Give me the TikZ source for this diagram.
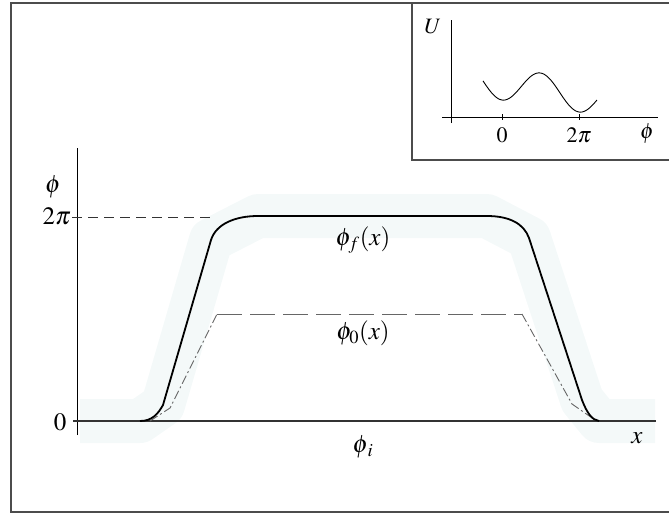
\documentclass[tikz,border=0pt]{standalone}
\usepackage{mathptmx}
\definecolor{halocol}{RGB}{244,249,249}
\begin{document}
\begin{tikzpicture}[x=1pt,y=-1pt,
  frame/.style={draw=black!70,line width=1.3pt},
  axis/.style={draw=black,line width=0.9pt},
  phif/.style={draw=black,line width=1.8pt,line join=round},
  phizero/.style={draw=black!60,line width=0.9pt},
  halo/.style={draw=halocol,line width=44pt,line join=round},
  lab/.style={font=\fontsize{25}{30}\selectfont,inner sep=0pt},
  smalllab/.style={font=\fontsize{22}{26}\selectfont,inner sep=0pt}]
\useasboundingbox (0,0) rectangle (669,515);
% halo
\draw[halo] (80,421) -- (140,421) -- (163,405) -- (211,240) -- (258,216) -- (487,216) -- (529,238) -- (582,400) -- (599,421) -- (655,421);
% outer frame
\draw[frame] (669,3) -- (11,3) -- (11,512) -- (669,512);
% inset frame
\draw[frame] (412,3) -- (412,160) -- (669,160);
% inset axes
\coordinate (ua0) at (451,123);
\coordinate (ua1) at (451,20);
\coordinate (ub0) at (442,117);
\coordinate (ub1) at (658,117);
\draw[axis,line width=0.8pt] (ua0) -- (ua1);
\draw[axis,line width=0.8pt] (ub0) -- (ub1);
\draw[axis,line width=0.8pt] (502,114) -- (502,120);
\draw[axis,line width=0.8pt] (579,114) -- (579,120);
\draw[black,line width=0.9pt] plot[domain=-1.55:7.75,samples=90,smooth] ({502+\x*77/6.2832},{83.5+16.5*cos(\x r)+1.91*\x});
\node[smalllab] (U) at (433,27) {$U$};
\node[smalllab] (i0) at (502,135) {$0$};
\node[smalllab] (i2p) at (579,135) {$2\pi$};
\node[smalllab] (iphi) at (647,134) {$\phi$};
% main axes
\coordinate (va0) at (77,435);
\coordinate (va1) at (77,148);
\coordinate (ha0) at (73,421);
\coordinate (ha1) at (656,421);
\draw[axis] (va0) -- (va1);
\draw[draw=black!80,line width=1.6pt] (ha0) -- (ha1);
% 2pi dashed level
\coordinate (d0) at (72,217);
\coordinate (d1) at (211,217);
\draw[black!80,line width=0.9pt,dash pattern=on 10pt off 6pt] (d0) -- (d1);
% phi_0
\draw[phizero,dash pattern=on 9pt off 3pt on 2pt off 3pt] (150,421) -- (170,408) -- (217,314);
\draw[phizero,dash pattern=on 25pt off 8pt] (217,314) -- (522,314);
\draw[phizero,dash pattern=on 9pt off 3pt on 2pt off 3pt] (522,314) -- (572,404) -- (595,420);
% phi_f
\draw[phif] (140,421) .. controls (152,421) and (158,414) .. (163,405) -- (211,240)
  .. controls (216,224) and (235,216) .. (258,216) -- (487,216)
  .. controls (510,216) and (524,224) .. (529,238) -- (582,400)
  .. controls (587,413) and (592,420) .. (599,421);
% labels
\node[lab] (phi) at (53,187) {$\phi$};
\node[lab,anchor=east] (twopi) at (71,216) {$2\pi$};
\node[lab] (zero) at (60,422) {$0$};
\node[lab] (xlab) at (637,438) {$x$};
\node[lab] (phifl) at (363,240) {$\phi_{f}(x)$};
\node[lab] (phi0l) at (363,333) {$\phi_{0}(x)$};
\node[lab] (phiil) at (363,447) {$\phi_{\,i}$};
\end{tikzpicture}
\end{document}
